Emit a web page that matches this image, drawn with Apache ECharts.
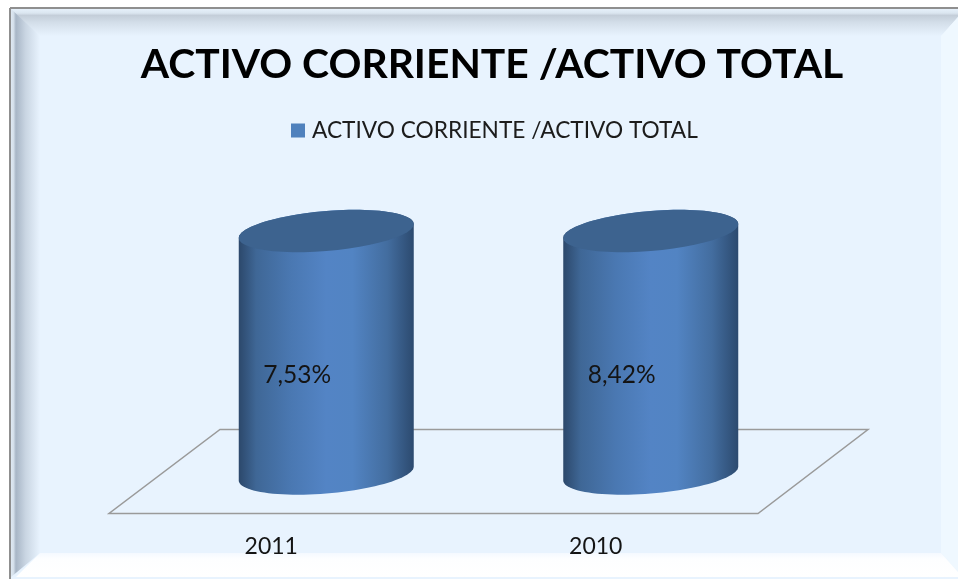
<!DOCTYPE html>
<html>
<head>
<meta charset="utf-8">
<style>
  html, body { margin: 0; padding: 0; background: #fff; }
  #chart { width: 958px; height: 579px; }
</style>
<script src="https://cdn.jsdelivr.net/npm/echarts@6/dist/echarts.min.js"></script>
</head>
<body>
<div id="chart"></div>
<script>
  var titleText = 'ACTIVO CORRIENTE /ACTIVO TOTAL';
  var categories = ['2011', '2010'];
  // both columns fill the axis (100% chart), the real ratio is only in the label
  var axisShare = [100, 100];
  var ratioLabels = ['7,53%', '8,42%'];

  var depthX = 55, depthY = -40;   // columns stand halfway back on the floor
  var radiusX = 87.5, radiusY = 20, tilt = 7;

  function ellipse(cx, cy, from, to) {
    var pts = [];
    for (var i = 0; i <= 48; i++) {
      var t = from + (to - from) * i / 48;
      pts.push([cx + radiusX * Math.cos(t), cy - tilt * Math.cos(t) + radiusY * Math.sin(t)]);
    }
    return pts;
  }

  function renderColumn(params, api) {
    var base = api.coord([api.value(0), 0]);
    var top = api.coord([api.value(0), api.value(1)]);
    var cx = base[0] + depthX;
    var by = base[1] + depthY;
    var ty = top[1] + depthY;
    var body = ellipse(cx, by, 0, Math.PI).concat(ellipse(cx, ty, Math.PI, 2 * Math.PI));
    return {
      type: 'group',
      children: [{
        type: 'polygon',
        shape: { points: body },
        style: {
          fill: new echarts.graphic.LinearGradient(0, 0, 1, 0, [
            { offset: 0, color: '#2c486b' },
            { offset: 0.1, color: '#3f6796' },
            { offset: 0.3, color: '#4a78b2' },
            { offset: 0.5, color: '#5384c5' },
            { offset: 0.65, color: '#5284c3' },
            { offset: 0.85, color: '#436d9f' },
            { offset: 1, color: '#2c4a6f' }
          ])
        }
      }, {
        type: 'polygon',
        shape: { points: ellipse(cx, ty, 0, 2 * Math.PI) },
        style: { fill: '#3d638f' }
      }, {
        type: 'text',
        style: {
          text: ratioLabels[params.dataIndex],
          x: cx - 29,
          y: (by + ty) / 2 + 23,
          align: 'center',
          verticalAlign: 'middle',
          fill: '#141414',
          font: '24.5px Lato'
        }
      }]
    };
  }

  var chart = echarts.init(document.getElementById('chart'), null, { renderer: 'canvas' });

  var option = {
    animation: false,
    backgroundColor: '#fff',
    textStyle: { fontFamily: 'Lato' },
    title: {
      text: titleText,
      left: 487,
      top: 39,
      textAlign: 'center',
      textStyle: { fontFamily: 'Lato', fontWeight: 'bold', fontSize: 40.8, color: '#000' }
    },
    legend: {
      data: [{ name: titleText, icon: 'rect' }],
      left: 286,
      top: 114,
      itemWidth: 14,
      itemHeight: 14,
      itemGap: 6,
      textStyle: { fontFamily: 'Lato', fontSize: 22.7, color: '#1c1c1c', padding: [0, 0, 0, 2] }
    },
    grid: { left: 109, top: 271, width: 649, height: 242.5 },
    xAxis: {
      type: 'category',
      data: categories,
      axisLine: { show: false },
      axisTick: { show: false },
      axisLabel: { margin: 22, fontFamily: 'Lato', fontSize: 23, color: '#141414' }
    },
    yAxis: { type: 'value', min: 0, max: 100, show: false },
    graphic: [
      // panel
      { type: 'rect', shape: { x: 11, y: 9, width: 947, height: 570 }, style: { fill: '#e8f3fe' }, z: -10 },
      // bevel
      {
        type: 'polygon', shape: { points: [[11, 9], [958, 9], [958, 17], [941, 36], [40, 36], [11, 12]] },
        style: { fill: new echarts.graphic.LinearGradient(0, 0, 0, 1, [
          { offset: 0, color: '#e6f0fa' }, { offset: 0.15, color: '#dbe6f0' }, { offset: 0.24, color: '#c4ced9' },
          { offset: 0.5, color: '#d3dee9' }, { offset: 1, color: '#e8f3fe' }
        ]) }, z: -9
      },
      {
        type: 'polygon', shape: { points: [[11, 9], [40, 36], [40, 553], [11, 577]] },
        style: { fill: new echarts.graphic.LinearGradient(0, 0, 1, 0, [
          { offset: 0, color: '#dfe9f3' }, { offset: 0.09, color: '#d4dfea' }, { offset: 0.17, color: '#a8b6c6' },
          { offset: 0.5, color: '#c9d5e2' }, { offset: 1, color: '#e8f3fe' }
        ]) }, z: -9
      },
      {
        type: 'polygon', shape: { points: [[958, 17], [941, 36], [941, 553], [958, 572]] },
        style: { fill: '#eff8ff' }, z: -9
      },
      {
        type: 'polygon', shape: { points: [[40, 553], [941, 553], [958, 572], [958, 577], [16, 577]] },
        style: { fill: new echarts.graphic.LinearGradient(0, 0, 0, 1, [
          { offset: 0, color: '#f4f9ff' }, { offset: 0.25, color: '#fdfeff' }, { offset: 1, color: '#ffffff' }
        ]) }, z: -9
      },
      // frame lines
      { type: 'line', shape: { x1: 10, y1: 8, x2: 958, y2: 8 }, style: { stroke: '#8f8f8f', lineWidth: 2 }, z: -8 },
      { type: 'line', shape: { x1: 10, y1: 8, x2: 10, y2: 579 }, style: { stroke: '#8f8f8f', lineWidth: 2 }, z: -8 },
      // chart floor
      {
        type: 'polygon', shape: { points: [[109, 513.5], [758, 513.5], [868, 429.5], [220, 429.5]] },
        style: { fill: 'none', stroke: '#9a9a9a', lineWidth: 1.5 }, z: -5
      }
    ],
    series: [{
      type: 'custom',
      name: titleText,
      coordinateSystem: 'cartesian2d',
      itemStyle: { color: '#4f81bd' },
      encode: { x: 0, y: 1 },
      renderItem: renderColumn,
      data: axisShare.map(function (v, i) { return [i, v]; })
    }]
  };

  chart.setOption(option);
</script>
</body>
</html>
